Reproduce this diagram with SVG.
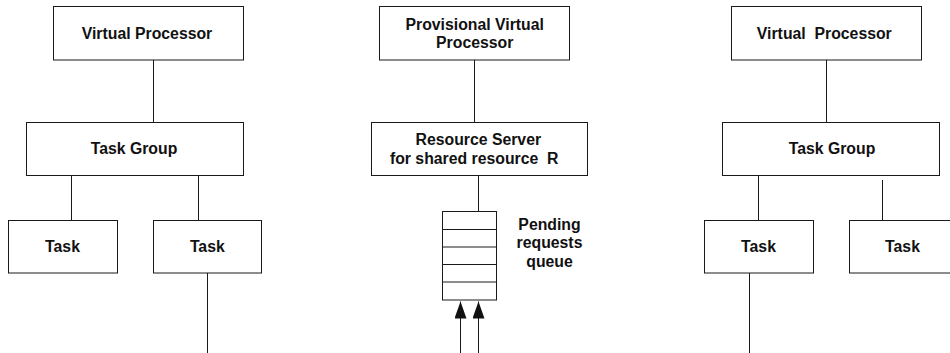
<svg xmlns="http://www.w3.org/2000/svg" width="950" height="353" viewBox="0 0 950 353">
<style>
  .box { fill: #ffffff; stroke: #1a1a1a; stroke-width: 1; }
  .ln { fill: none; stroke: #1a1a1a; stroke-width: 1; }
  .t { font-family: "Liberation Sans", Arial, sans-serif; font-weight: bold; font-size: 15.8px; fill: #111111; text-anchor: middle; }
</style>
<defs>
  <marker id="arr" viewBox="0 0 17 12" refX="17" refY="6" markerWidth="17" markerHeight="12" markerUnits="userSpaceOnUse" orient="auto">
    <path d="M0,0 L17,6 L0,12 z" fill="#111111"/>
  </marker>
</defs>
<rect width="950" height="353" fill="#ffffff"/>
<g id="connectors">
  <line class="ln" x1="153.5" y1="60" x2="153.5" y2="122.5"/>
  <line class="ln" x1="71.5" y1="175.5" x2="71.5" y2="220.5"/>
  <line class="ln" x1="198.5" y1="175.5" x2="198.5" y2="220.5"/>
  <line class="ln" x1="207.5" y1="273" x2="207.5" y2="353"/>
  <line class="ln" x1="474.5" y1="60" x2="474.5" y2="122.5"/>
  <line class="ln" x1="478.5" y1="175.5" x2="478.5" y2="211.5"/>
  <line class="ln" x1="460.5" y1="353" x2="460.5" y2="301.5" marker-end="url(#arr)"/>
  <line class="ln" x1="478.5" y1="353" x2="478.5" y2="301.5" marker-end="url(#arr)"/>
  <line class="ln" x1="826.5" y1="60" x2="826.5" y2="122.5"/>
  <line class="ln" x1="758.5" y1="175.5" x2="758.5" y2="220.5"/>
  <line class="ln" x1="882.5" y1="180" x2="882.5" y2="220.5"/>
  <line class="ln" x1="749.5" y1="273" x2="749.5" y2="353"/>
</g>
<g id="left-vp">
  <rect class="box" x="53.5" y="6.5" width="190" height="53.5"/>
  <text class="t" x="147" y="38.8">Virtual Processor</text>
</g>
<g id="left-tg">
  <rect class="box" x="26.5" y="122.5" width="217" height="53"/>
  <text class="t" x="134" y="154.2">Task Group</text>
</g>
<g id="left-task1">
  <rect class="box" x="8.5" y="220.5" width="109" height="52.5"/>
  <text class="t" x="62.5" y="252.3">Task</text>
</g>
<g id="left-task2">
  <rect class="box" x="153.5" y="220.5" width="108" height="52.5"/>
  <text class="t" x="207.3" y="252.3">Task</text>
</g>
<g id="mid-pvp">
  <rect class="box" x="379.5" y="6.5" width="190" height="53.5"/>
  <text class="t" x="474.7" y="29.5">Provisional Virtual</text>
  <text class="t" x="474.7" y="47.8">Processor</text>
</g>
<g id="mid-rs">
  <rect class="box" x="371.5" y="122.5" width="216" height="53"/>
  <text class="t" x="478.3" y="145.2">Resource Server</text>
  <text class="t" x="474.2" y="163.5" xml:space="preserve">for shared resource  R</text>
</g>
<g id="queue">
  <rect class="box" x="442.5" y="211.5" width="54" height="88.5"/>
  <line class="ln" x1="442.5" y1="229.5" x2="496.5" y2="229.5"/>
  <line class="ln" x1="442.5" y1="247" x2="496.5" y2="247"/>
  <line class="ln" x1="442.5" y1="264.5" x2="496.5" y2="264.5"/>
  <line class="ln" x1="442.5" y1="282" x2="496.5" y2="282"/>
</g>
<g id="queue-label">
  <text class="t" x="549.5" y="230">Pending</text>
  <text class="t" x="549.5" y="248.3">requests</text>
  <text class="t" x="549.5" y="266.6">queue</text>
</g>
<g id="right-vp">
  <rect class="box" x="731.5" y="6.5" width="190" height="53.5"/>
  <text class="t" x="824.3" y="38.8" xml:space="preserve">Virtual  Processor</text>
</g>
<g id="right-tg">
  <rect class="box" x="722.5" y="122.5" width="217" height="53"/>
  <text class="t" x="832" y="154.2">Task Group</text>
</g>
<g id="right-task1">
  <rect class="box" x="704.5" y="220.5" width="109" height="52.5"/>
  <text class="t" x="758.5" y="252.3">Task</text>
</g>
<g id="right-task2">
  <rect class="box" x="849.5" y="220.5" width="109" height="52.5"/>
  <text class="t" x="902.5" y="252.3">Task</text>
</g>
</svg>
